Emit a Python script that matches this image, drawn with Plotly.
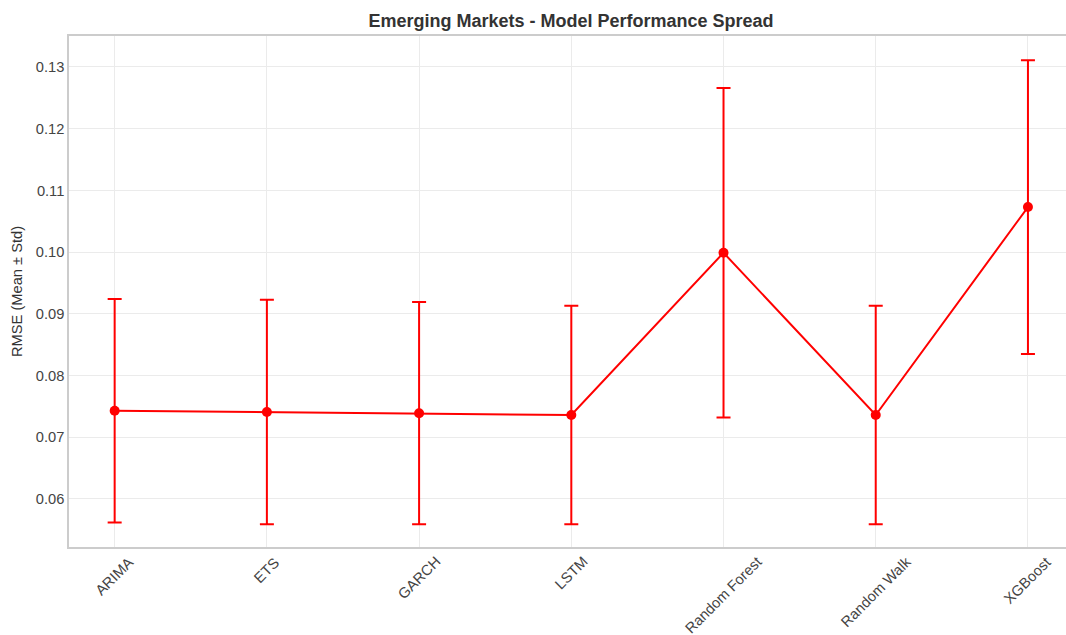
import plotly.graph_objects as go

models = ["ARIMA", "ETS", "GARCH", "LSTM", "Random Forest", "Random Walk", "XGBoost"]
rmse_mean = [0.0743, 0.0741, 0.0739, 0.0736, 0.0999, 0.0736, 0.1073]
rmse_std = [0.0181, 0.0182, 0.0180, 0.0177, 0.0267, 0.0177, 0.0238]
y_ticks = [0.06, 0.07, 0.08, 0.09, 0.10, 0.11, 0.12, 0.13]
y_ticktext = ["0.06", "0.07", "0.08", "0.09", "0.10", "0.11", "0.12", "0.13"]

fig = go.Figure()
fig.add_trace(go.Scatter(
    x=list(range(len(models))), y=rmse_mean,
    mode="lines+markers",
    line=dict(color="#ff0000", width=2),
    marker=dict(color="#ff0000", size=10),
    error_y=dict(type="data", array=rmse_std, visible=True, color="#ff0000", thickness=2, width=7),
    showlegend=False, hoverinfo="skip",
))

font = "Liberation Sans, Arial, sans-serif"
fs = 14.67
fig.update_layout(
    width=1066, height=635,
    margin=dict(l=69, r=0, t=36, b=88),
    paper_bgcolor="white", plot_bgcolor="white",
    font=dict(family=font, color="#333333", size=fs),
    title=dict(text="<b>Emerging Markets - Model Performance Spread</b>",
               xref="container", x=571 / 1066, xanchor="center",
               yref="container", y=1 - 21 / 635, yanchor="middle",
               font=dict(size=18, color="#333333")),
)
# category labels, rotated 45° and centred under each tick (matplotlib style)
for i, m in enumerate(models):
    fig.add_annotation(
        x=i, xref="x", y=0, yref="paper", text=m, showarrow=False,
        textangle=-45, xanchor="center", yanchor="top", yshift=-4,
        font=dict(size=fs, color="#444444"),
    )
fig.update_xaxes(
    tickmode="array", tickvals=list(range(len(models))), ticktext=[""] * len(models),
    range=[-0.3, 6.25], automargin=False,
    showgrid=True, gridcolor="#ebebeb", gridwidth=1,
    showline=True, linecolor="#cccccc", linewidth=1.5, mirror=True,
    ticks="", zeroline=False,
)
fig.update_yaxes(
    range=[0.05222, 0.13502], automargin=False,
    tickvals=y_ticks, ticktext=y_ticktext,
    showgrid=True, gridcolor="#ebebeb", gridwidth=1,
    showline=True, linecolor="#cccccc", linewidth=1.5, mirror=True,
    ticks="", zeroline=False, tickfont=dict(size=fs, color="#444444"),
    title=dict(text="RMSE (Mean ± Std)", font=dict(size=fs, color="#333333"), standoff=10),
)
fig.write_html("out.html", config={"displayModeBar": False},
               post_script="document.body.style.margin='0';document.body.style.overflow='hidden';")
